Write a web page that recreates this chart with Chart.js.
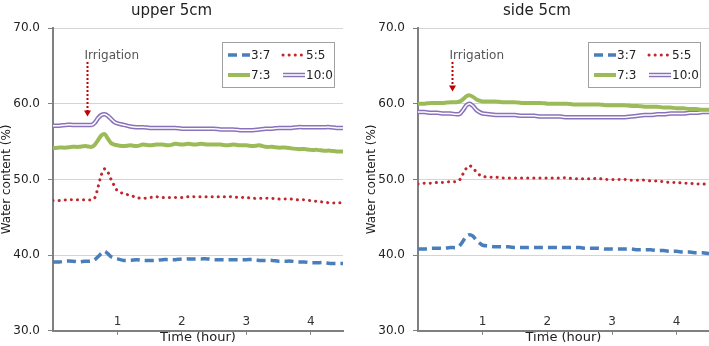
<!DOCTYPE html>
<html>
<head>
<meta charset="utf-8">
<script src="https://cdn.jsdelivr.net/npm/chart.js@4.4.0/dist/chart.umd.min.js"></script>
<style>
  body { margin: 0; background: #fff; }
  #wrap { position: relative; width: 709px; height: 346px; overflow: hidden; }
  canvas { position: absolute; top: 0; }
</style>
</head>
<body>
<div id="wrap">
  <canvas id="upperChart" width="355" height="346" style="left:0"></canvas>
  <canvas id="sideChart" width="354" height="346" style="left:355px"></canvas>
</div>
<script>
// time axis (hour), shared by every series
const hours = [
  0, 0.1, 0.2, 0.3, 0.4, 0.5, 0.6,
  0.65, 0.7, 0.75, 0.8, 0.85, 0.9, 0.95, 1.0,
  1.1, 1.2, 1.3, 1.4, 1.5, 1.6, 1.7, 1.8, 1.9, 2.0,
  2.1, 2.2, 2.3, 2.4, 2.5, 2.6, 2.7, 2.8, 2.9, 3.0,
  3.1, 3.2, 3.3, 3.4, 3.5, 3.6, 3.7, 3.8, 3.9, 4.0,
  4.1, 4.2, 4.3, 4.4, 4.5,
];
const seriesNames = ["3:7", "5:5", "7:3", "10:0"];
const yTicks = [30, 40, 50, 60, 70];
const xTicks = [1, 2, 3, 4];

// upper 5cm
const upper_37 = [
  39.1, 39.1, 39.2, 39.2, 39.1, 39.2, 39.2,
  39.4, 39.8, 40.2, 40.5, 40.2, 39.8, 39.6, 39.5,
  39.3, 39.3, 39.4, 39.3, 39.3, 39.3, 39.4, 39.4, 39.4, 39.5,
  39.5, 39.5, 39.5, 39.5, 39.4, 39.4, 39.4, 39.4, 39.4, 39.4,
  39.4, 39.3, 39.3, 39.3, 39.2, 39.2, 39.2, 39.1, 39.1, 39.0,
  39.0, 39.0, 38.9, 38.9, 38.9,
];
const upper_55 = [
  47.2, 47.2, 47.3, 47.3, 47.3, 47.3, 47.3,
  47.6, 49.0, 50.6, 51.4, 51.0, 50.0, 49.2, 48.5,
  48.1, 47.9, 47.6, 47.5, 47.6, 47.7, 47.6, 47.6, 47.6, 47.6,
  47.7, 47.7, 47.7, 47.7, 47.7, 47.7, 47.7, 47.7, 47.6, 47.6,
  47.5, 47.5, 47.5, 47.5, 47.4, 47.4, 47.4, 47.3, 47.3, 47.2,
  47.1, 47.0, 46.9, 46.9, 46.9,
];
const upper_73 = [
  54.1, 54.2, 54.2, 54.3, 54.3, 54.4, 54.3,
  54.6, 55.2, 55.8, 56.0, 55.4, 54.8, 54.6, 54.5,
  54.4, 54.5, 54.4, 54.6, 54.5, 54.6, 54.6, 54.5, 54.7, 54.6,
  54.7, 54.6, 54.7, 54.6, 54.6, 54.6, 54.5, 54.6, 54.5, 54.5,
  54.4, 54.5, 54.3, 54.3, 54.2, 54.2, 54.1, 54.0, 54.0, 53.9,
  53.9, 53.8, 53.8, 53.7, 53.7,
];
const upper_100 = [
  57.1, 57.1, 57.2, 57.2, 57.2, 57.2, 57.2,
  57.5, 58.1, 58.5, 58.6, 58.4, 58.0, 57.6, 57.4,
  57.2, 57.0, 56.9, 56.9, 56.8, 56.8, 56.8, 56.8, 56.8, 56.7,
  56.7, 56.7, 56.7, 56.7, 56.7, 56.6, 56.6, 56.6, 56.5, 56.5,
  56.5, 56.6, 56.7, 56.7, 56.8, 56.8, 56.8, 56.9, 56.9, 56.9,
  56.9, 56.9, 56.9, 56.8, 56.8,
];

// side 5cm
const side_37 = [
  40.8, 40.8, 40.9, 40.9, 40.9, 41.0, 41.0,
  41.3, 41.9, 42.5, 42.7, 42.5, 42.0, 41.6, 41.3,
  41.2, 41.1, 41.1, 41.1, 41.0, 41.0, 41.0, 41.0, 41.0, 41.0,
  41.0, 41.0, 41.0, 41.0, 41.0, 40.9, 40.9, 40.9, 40.8, 40.8,
  40.8, 40.8, 40.8, 40.7, 40.7, 40.7, 40.6, 40.6, 40.5, 40.5,
  40.4, 40.4, 40.3, 40.3, 40.2,
];
const side_55 = [
  49.4, 49.5, 49.5, 49.6, 49.6, 49.7, 49.7,
  50.0, 50.8, 51.5, 51.8, 51.5, 51.0, 50.6, 50.4,
  50.3, 50.3, 50.2, 50.2, 50.2, 50.2, 50.2, 50.2, 50.2, 50.2,
  50.2, 50.2, 50.2, 50.1, 50.1, 50.1, 50.1, 50.1, 50.0, 50.0,
  50.0, 50.0, 49.9, 49.9, 49.9, 49.8, 49.8, 49.7, 49.6, 49.6,
  49.5, 49.5, 49.4, 49.4, 49.3,
];
const side_73 = [
  60.0, 60.0, 60.1, 60.1, 60.1, 60.2, 60.2,
  60.3, 60.6, 61.0, 61.1, 60.9, 60.6, 60.4, 60.3,
  60.3, 60.3, 60.2, 60.2, 60.2, 60.1, 60.1, 60.1, 60.1, 60.0,
  60.0, 60.0, 60.0, 59.9, 59.9, 59.9, 59.9, 59.9, 59.8, 59.8,
  59.8, 59.8, 59.7, 59.7, 59.6, 59.6, 59.6, 59.5, 59.5, 59.4,
  59.4, 59.3, 59.3, 59.2, 59.2,
];
const side_100 = [
  58.9, 58.9, 58.8, 58.8, 58.7, 58.7, 58.6,
  58.7, 59.2, 59.8, 60.0, 59.7, 59.2, 58.9, 58.7,
  58.6, 58.5, 58.5, 58.5, 58.5, 58.4, 58.4, 58.4, 58.3, 58.3,
  58.3, 58.3, 58.2, 58.2, 58.2, 58.2, 58.2, 58.2, 58.2, 58.2,
  58.2, 58.2, 58.3, 58.4, 58.5, 58.5, 58.6, 58.6, 58.7, 58.7,
  58.7, 58.8, 58.8, 58.9, 58.9,
];

const FONT = "'DejaVu Sans', Verdana, sans-serif";

function toPoints(values) {
  return values.map((v, i) => ({ x: hours[i], y: v }));
}

// legend in a box inside the plot, 2 columns x 2 rows
const boxLegend = {
  id: "boxLegend",
  afterDraw(chart) {
    const ctx = chart.ctx;
    const area = chart.chartArea;
    const w = 112, h = 45;
    const left = area.right - 9 - w;
    const top = area.top + 14;
    ctx.save();
    ctx.fillStyle = "#fff";
    ctx.fillRect(left, top, w, h);
    ctx.strokeStyle = "#a0a0a0";
    ctx.lineWidth = 1;
    ctx.strokeRect(left + 0.5, top + 0.5, w, h);

    const slots = [[4, 13], [59, 13], [4, 33], [59, 33]];
    const items = chart.data.datasets.filter((d) => !d.noLegend);
    items.forEach((ds, i) => {
      const x0 = left + slots[i][0];
      const y0 = top + slots[i][1];
      ctx.beginPath();
      ctx.setLineDash(ds.borderDash || []);
      ctx.lineCap = ds.borderCapStyle || "butt";
      ctx.strokeStyle = ds.borderColor;
      ctx.lineWidth = ds.borderWidth;
      ctx.moveTo(x0 + 2, y0);
      ctx.lineTo(x0 + 24, y0);
      ctx.stroke();
      if (ds.innerColor) {
        ctx.beginPath();
        ctx.strokeStyle = ds.innerColor;
        ctx.lineWidth = 1.6;
        ctx.moveTo(x0 + 2, y0);
        ctx.lineTo(x0 + 24, y0);
        ctx.stroke();
      }
      ctx.setLineDash([]);
      ctx.fillStyle = "#222";
      ctx.font = "12px " + FONT;
      ctx.textBaseline = "middle";
      ctx.textAlign = "left";
      ctx.fillText(ds.label, x0 + 25, y0 + 1);
    });
    ctx.restore();
  },
};

// x tick labels sit just above the axis line, as in the original
const innerXLabels = {
  id: "innerXLabels",
  afterDraw(chart) {
    const ctx = chart.ctx;
    const xs = chart.scales.x;
    ctx.save();
    ctx.font = "12px " + FONT;
    ctx.fillStyle = "#333";
    ctx.textAlign = "center";
    ctx.textBaseline = "middle";
    xs.ticks.forEach((t) => {
      ctx.fillText(String(t.value), xs.getPixelForValue(t.value), chart.chartArea.bottom - 9);
    });
    ctx.restore();
  },
};

// "Irrigation" label with dotted arrow
const irrigation = {
  id: "irrigation",
  afterDraw(chart, args, opts) {
    const ctx = chart.ctx;
    const xs = chart.scales.x;
    const ys = chart.scales.y;
    const x = Math.round(xs.getPixelForValue(opts.at)) + 0.5;
    const yTop = ys.getPixelForValue(opts.from);
    const yTip = ys.getPixelForValue(opts.to);
    ctx.save();
    ctx.font = "12px " + FONT;
    ctx.fillStyle = "#555";
    ctx.textAlign = "left";
    ctx.textBaseline = "alphabetic";
    ctx.fillText("Irrigation", x - 3, yTop - 3);
    ctx.strokeStyle = "#c00000";
    ctx.lineWidth = 2;
    ctx.setLineDash([2, 2]);
    ctx.beginPath();
    ctx.moveTo(x, yTop);
    ctx.lineTo(x, yTip - 5);
    ctx.stroke();
    ctx.setLineDash([]);
    ctx.fillStyle = "#c00000";
    ctx.beginPath();
    ctx.moveTo(x - 3.5, yTip - 6);
    ctx.lineTo(x + 3.5, yTip - 6);
    ctx.lineTo(x, yTip);
    ctx.closePath();
    ctx.fill();
    ctx.restore();
  },
};

function makeChart(canvasId, title, s37, s55, s73, s100, padLeft, padRight, arrowTo) {
  const ctx = document.getElementById(canvasId).getContext("2d");
  return new Chart(ctx, {
    type: "line",
    data: {
      datasets: [
        {
          label: seriesNames[0],
          data: toPoints(s37),
          borderColor: "#4a7ebb",
          borderWidth: 3.5,
          borderDash: [9, 5],
          order: 1,
        },
        {
          label: seriesNames[1],
          data: toPoints(s55),
          borderColor: "#c0282d",
          borderWidth: 3,
          borderDash: [0.1, 6],
          borderCapStyle: "round",
          order: 1,
        },
        {
          label: seriesNames[2],
          data: toPoints(s73),
          borderColor: "#9bbb59",
          borderWidth: 4,
          order: 2,
        },
        {
          label: seriesNames[3],
          data: toPoints(s100),
          borderColor: "#8a72ba",
          innerColor: "#ffffff",
          borderWidth: 4.5,
          order: 4,
        },
        {
          label: "10:0 inner",
          noLegend: true,
          data: toPoints(s100),
          borderColor: "#ffffff",
          borderWidth: 1.5,
          order: 3,
        },
      ],
    },
    options: {
      responsive: false,
      animation: false,
      devicePixelRatio: 1,
      layout: {
        padding: { left: padLeft, right: padRight, top: 0, bottom: 0 },
      },
      elements: {
        point: { radius: 0 },
        line: { tension: 0.3, borderJoinStyle: "round", fill: false },
      },
      plugins: {
        legend: { display: false },
        tooltip: { enabled: false },
        title: {
          display: true,
          text: title,
          color: "#222",
          font: { family: FONT, size: 15, weight: "normal" },
          padding: { top: 2, bottom: 8 },
        },
        irrigation: { at: 0.53, from: 65.5, to: arrowTo },
      },
      scales: {
        x: {
          type: "linear",
          min: 0,
          max: 4.5,
          afterBuildTicks: (s) => {
            s.ticks = xTicks.map((v) => ({ value: v }));
          },
          afterFit: (s) => {
            s.height = 15;
          },
          ticks: { display: false },
          grid: {
            drawOnChartArea: false,
            tickLength: 4,
            tickColor: "#808080",
          },
          border: { color: "#808080", width: 2 },
          title: {
            display: true,
            text: "Time (hour)",
            color: "#222",
            font: { family: FONT, size: 13 },
            padding: 0,
          },
        },
        y: {
          min: 30,
          max: 70,
          afterBuildTicks: (s) => {
            s.ticks = yTicks.map((v) => ({ value: v }));
          },
          afterFit: (s) => {
            s.width = 53;
          },
          ticks: {
            padding: 8,
            color: "#222",
            font: { family: FONT, size: 12 },
            callback: (v) => Number(v).toFixed(1),
          },
          grid: {
            color: "#d4d4d4",
            tickLength: 5,
            tickColor: "#808080",
          },
          border: { color: "#808080", width: 2 },
          title: {
            display: true,
            text: "Water content (%)",
            color: "#222",
            font: { family: FONT, size: 12 },
            padding: 0,
          },
        },
      },
    },
    plugins: [irrigation, boxLegend, innerXLabels],
  });
}

makeChart("upperChart", "upper 5cm", upper_37, upper_55, upper_73, upper_100, 0, 12, 58.3);
makeChart("sideChart", "side 5cm", side_37, side_55, side_73, side_100, 10, 0, 61.6);
</script>
</body>
</html>
